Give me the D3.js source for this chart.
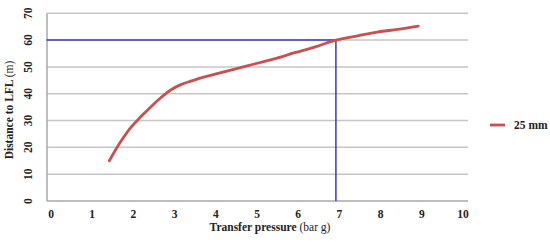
<!DOCTYPE html>
<html>
<head>
<meta charset="utf-8">
<script src="https://cdn.jsdelivr.net/npm/d3@7"></script>
<style>
  body { margin: 0; background: #fff; }
  text { font-family: "Liberation Serif", "DejaVu Serif", serif; }
</style>
</head>
<body>
<div id="chart"></div>
<script>
// data
const pressure = [1.5, 1.75, 2, 2.25, 2.5, 2.75, 3, 3.25, 3.5, 3.75, 4, 4.5, 5, 5.5, 6, 6.5, 7, 7.5, 8, 8.5, 9];
const distance = [15, 21.5, 27, 31.2, 35, 38.5, 41.5, 43.5, 44.8, 46, 47, 49, 51, 53, 55.3, 57.5, 60, 61.5, 63, 64, 65.2];
const xTicks = [0, 1, 2, 3, 4, 5, 6, 7, 8, 9, 10];
const yTicks = [0, 10, 20, 30, 40, 50, 60, 70];
const refPressure = 7;
const refDistance = 60;
const seriesName = "25 mm";

const width = 550, height = 247;

const svg = d3.select('#chart').append('svg')
    .attr('width', width)
    .attr('height', height);

const x = d3.scaleLinear().domain([0, 10]).range([47.5, 459.5]);
const y = d3.scaleLinear().domain([0, 70]).range([201, 13.3]);

// horizontal gridlines
svg.append('g').selectAll('line')
    .data(yTicks)
    .enter().append('line')
    .attr('x1', 47).attr('x2', 468)
    .attr('y1', d => y(d)).attr('y2', d => y(d))
    .attr('stroke', d => d === 0 ? '#a8a8a8' : '#c6c6c6')
    .attr('stroke-width', 1.5);

// left axis line
svg.append('line')
    .attr('x1', 47).attr('x2', 47)
    .attr('y1', y(70)).attr('y2', y(0))
    .attr('stroke', '#a8a8a8').attr('stroke-width', 1.5);

// y tick labels (rotated)
svg.append('g').selectAll('text')
    .data(yTicks)
    .enter().append('text')
    .attr('transform', d => `translate(32,${y(d)}) rotate(-90)`)
    .attr('text-anchor', 'middle')
    .attr('font-size', 11.5)
    .attr('font-weight', 'bold')
    .attr('fill', '#222')
    .text(d => d);

// x tick labels
svg.append('g').selectAll('text')
    .data(xTicks)
    .enter().append('text')
    .attr('x', d => x(d) + 3.5)
    .attr('y', 218)
    .attr('text-anchor', 'middle')
    .attr('font-size', 11.5)
    .attr('font-weight', 'bold')
    .attr('fill', '#222')
    .text(d => d);

// reference lines
svg.append('path')
    .attr('d', d3.line()([[x(0) - 1, y(refDistance)], [x(refPressure), y(refDistance)], [x(refPressure), y(0)]]))
    .attr('fill', 'none')
    .attr('stroke', '#3a3ac4')
    .attr('stroke-width', 1.5);

// the curve
const line = d3.line()
    .x(d => x(d[0]))
    .y(d => y(d[1]))
    .curve(d3.curveCatmullRom);

svg.append('path')
    .datum(d3.zip(pressure, distance))
    .attr('d', line)
    .attr('fill', 'none')
    .attr('stroke', '#c8504e')
    .attr('stroke-width', 2.8)
    .attr('stroke-linecap', 'round');

// axis titles
const yt = svg.append('text')
    .attr('transform', 'translate(13,110) rotate(-90)')
    .attr('text-anchor', 'middle')
    .attr('font-size', 11.5)
    .attr('fill', '#222');
yt.append('tspan').attr('font-weight', 'bold').text('Distance to LFL ');
yt.append('tspan').text('(m)');

const xt = svg.append('text')
    .attr('x', 270).attr('y', 231)
    .attr('text-anchor', 'middle')
    .attr('font-size', 11.5)
    .attr('fill', '#222');
xt.append('tspan').attr('font-weight', 'bold').text('Transfer pressure ');
xt.append('tspan').text('(bar g)');

// legend
svg.append('line')
    .attr('x1', 490).attr('x2', 505)
    .attr('y1', 125).attr('y2', 125)
    .attr('stroke', '#c8504e').attr('stroke-width', 2.8);
svg.append('text')
    .attr('x', 514).attr('y', 129)
    .attr('font-size', 11.5)
    .attr('font-weight', 'bold')
    .attr('fill', '#222')
    .text(seriesName);
</script>
</body>
</html>
